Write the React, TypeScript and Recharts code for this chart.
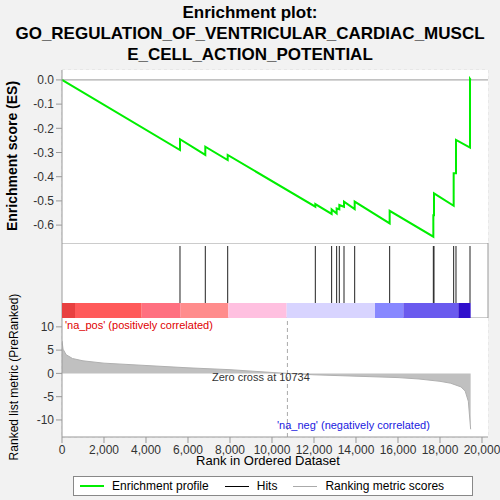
import { LineChart, Line, XAxis, YAxis, CartesianGrid, ReferenceLine, ReferenceArea, AreaChart, Area } from "recharts";

const hitRanks = [5619, 6824, 7890, 12063, 12840, 13079, 13206, 13429, 13937, 15603, 17683, 17714, 18651, 18762, 19429];
const esBefore = [-0.29, -0.31, -0.331, -0.524, -0.554, -0.552, -0.535, -0.524, -0.534, -0.593, -0.648, -0.559, -0.52, -0.386, -0.28];
const esAfter = [-0.245, -0.276, -0.31, -0.513, -0.535, -0.531, -0.517, -0.503, -0.503, -0.541, -0.559, -0.469, -0.386, -0.248, 0.004];

const barStops = [0, 619, 3794, 5651, 7921, 10698, 14905, 16254, 18873, 19460];
const barColors = ["#e84040", "#ff5a5a", "#ff7080", "#ff8c8c", "#ffc0e0", "#d8d4ff", "#8888ff", "#6a5aee", "#3010cc"];

const metricRanks = [0, 50, 200, 500, 1000, 2000, 4000, 6000, 8000, 10000, 10734, 12000, 14000, 16000, 17000, 18000, 18500, 19000, 19200, 19350, 19460];
const metricValues = [7, 5.2, 4, 3.2, 2.7, 2.2, 1.7, 1.2, 0.8, 0.2, 0, -0.3, -0.6, -0.9, -1.2, -1.7, -2.1, -2.9, -3.8, -6, -12];

const esData = [{ x: 0, y: 0 }];
hitRanks.forEach((r, i) => {
  esData.push({ x: r, y: esBefore[i] });
  esData.push({ x: r, y: esAfter[i] });
});
esData.push({ x: 19460, y: 0 });

const hitData = [{ x: 0, y: 0.5 }, ...hitRanks.map((r) => ({ x: r, y: 0.5 }))];
const metricData = metricRanks.map((r, i) => ({ x: r, y: metricValues[i] }));

const xMax = 20286;
const xTicks = [0, 2000, 4000, 6000, 8000, 10000, 12000, 14000, 16000, 18000, 20000];
const font = "'Liberation Sans', Arial, sans-serif";
const tick = { fill: "#333", fontSize: 12 };

export default function App() {
  return (
    <div style={{ position: "absolute", left: 0, top: 0, width: 500, height: 500, background: "#f2f2f2", fontFamily: font }}>
      <div style={{ position: "absolute", top: 2, width: 500, textAlign: "center", fontWeight: "bold", fontSize: 17, lineHeight: "21px" }}>
        Enrichment plot:<br />GO_REGULATION_OF_VENTRICULAR_CARDIAC_MUSCL<br />E_CELL_ACTION_POTENTIAL
      </div>
      <div style={{ position: "absolute", top: 0, left: 0 }}>
        <LineChart width={500} height={243} data={esData} margin={{ top: 70, left: 0, right: 12, bottom: 0 }}>
          <rect x={62} y={70} width={426} height={173} fill="#fff" />
          <CartesianGrid strokeDasharray="3 3" stroke="#ddd" />
          <XAxis type="number" dataKey="x" domain={[0, xMax]} ticks={xTicks} hide />
          <YAxis type="number" domain={[-0.674, 0.041]} ticks={[-0.6, -0.5, -0.4, -0.3, -0.2, -0.1, 0]} width={62} tick={tick} stroke="#999" tickFormatter={(v) => v.toFixed(1)} allowDataOverflow />
          <ReferenceLine y={0} stroke="#999" />
          <Line type="linear" dataKey="y" stroke="#00ee00" strokeWidth={2} dot={false} isAnimationActive={false} />
        </LineChart>
      </div>
      <div style={{ position: "absolute", top: 243, left: 0 }}>
        <LineChart width={500} height={75} data={hitData} margin={{ top: 0, left: 62, right: 12, bottom: 0 }}>
          <rect x={62} y={0} width={426} height={75} fill="#fff" stroke="#999" />
          <XAxis type="number" dataKey="x" domain={[0, xMax]} hide />
          <YAxis type="number" domain={[0, 1]} hide />
          <Line dataKey="y" stroke="none" dot={false} isAnimationActive={false} />
          {barColors.map((c, i) => (
            <ReferenceArea key={i} x1={barStops[i]} x2={barStops[i + 1]} y1={0} y2={0.2} fill={c} fillOpacity={1} stroke="none" />
          ))}
          {hitRanks.map((r) => (
            <ReferenceLine key={r} segment={[{ x: r, y: 0.2 }, { x: r, y: 0.96 }]} stroke="#222" />
          ))}
        </LineChart>
      </div>
      <div style={{ position: "absolute", top: 318, left: 0 }}>
        <AreaChart width={500} height={150} data={metricData} margin={{ top: 0, left: 0, right: 12, bottom: 1 }}>
          <rect x={62} y={0} width={426} height={119} fill="#fff" />
          <CartesianGrid strokeDasharray="3 3" stroke="#ddd" />
          <XAxis type="number" dataKey="x" domain={[0, xMax]} ticks={xTicks} tick={tick} stroke="#999" tickFormatter={(v) => v.toLocaleString("en-US")} allowDataOverflow />
          <YAxis type="number" domain={[-13.66, 11.9]} ticks={[-10, -5, 0, 5, 10]} width={62} tick={tick} stroke="#999" allowDataOverflow />
          <ReferenceLine x={10734} stroke="#aaa" strokeDasharray="4 3" />
          <Area type="linear" dataKey="y" stroke="#b0b0b0" fill="#c0c0c0" fillOpacity={1} isAnimationActive={false} />
        </AreaChart>
      </div>
      <div style={{ position: "absolute", left: 65, top: 319, fontSize: 11, color: "#e00000" }}>'na_pos' (positively correlated)</div>
      <div style={{ position: "absolute", left: 212, top: 371, fontSize: 11, color: "#333" }}>Zero cross at 10734</div>
      <div style={{ position: "absolute", left: 277, top: 419, fontSize: 11, color: "#2020e0" }}>'na_neg' (negatively correlated)</div>
      <div style={{ position: "absolute", left: -68, top: 148, width: 160, transform: "rotate(-90deg)", textAlign: "center", fontWeight: "bold", fontSize: 14 }}>Enrichment score (ES)</div>
      <div style={{ position: "absolute", left: -76, top: 370, width: 180, transform: "rotate(-90deg)", textAlign: "center", fontSize: 12 }}>Ranked list metric (PreRanked)</div>
      <div style={{ position: "absolute", top: 453, width: 500, left: 18, textAlign: "center", fontSize: 13 }}>Rank in Ordered Dataset</div>
      <div style={{ position: "absolute", top: 476, left: 73, width: 400, height: 20, border: "1px solid #888", background: "#fff", display: "flex", alignItems: "center", fontSize: 12, gap: 8, boxSizing: "border-box", paddingLeft: 6 }}>
        <span style={{ display: "inline-block", width: 24, height: 2, background: "#00ee00" }} />Enrichment profile
        <span style={{ display: "inline-block", width: 24, height: 1, background: "#000", marginLeft: 8 }} />Hits
        <span style={{ display: "inline-block", width: 24, height: 1, background: "#aaa", marginLeft: 8 }} />Ranking metric scores
      </div>
    </div>
  );
}
